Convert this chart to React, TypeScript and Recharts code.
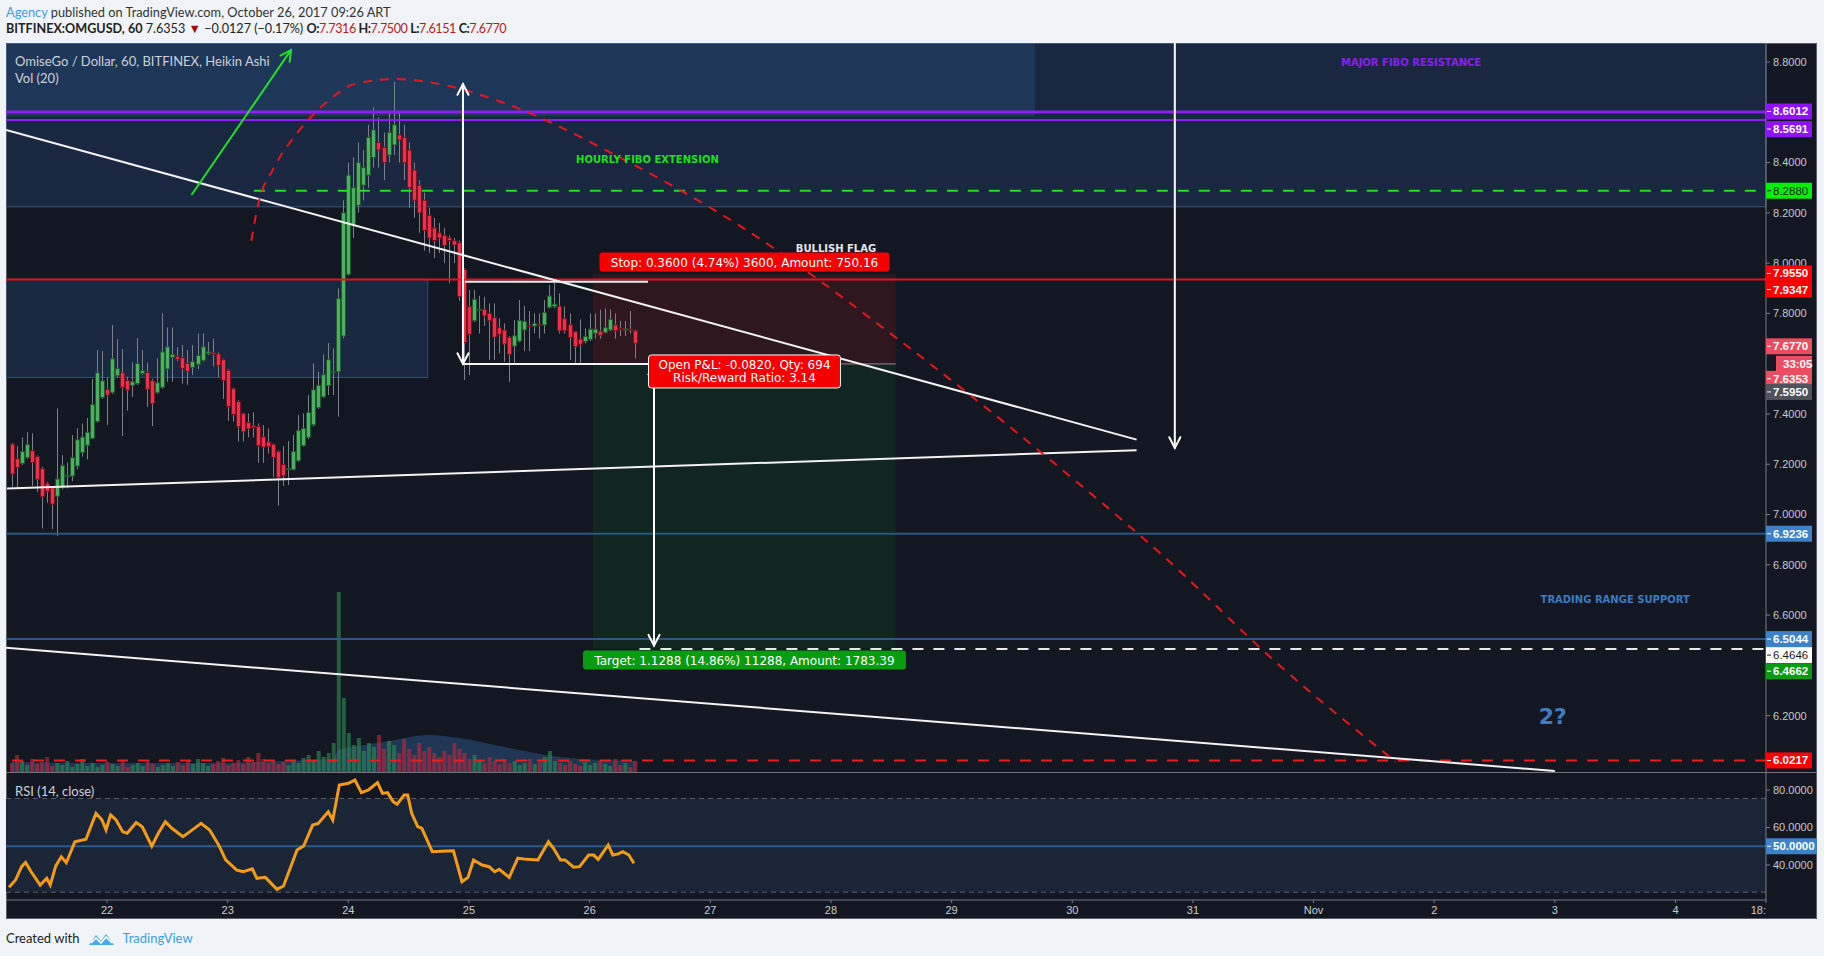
import React from 'react';
import {
  ComposedChart, Bar, Line, Area, XAxis, YAxis, ReferenceLine, ReferenceArea, ReferenceDot, Cell,
} from 'recharts';

// hourly bars, hour 0 = Oct 22 00:00
const FIRST_HOUR = -19;
const candleOpen = [
  7.280, 7.222, 7.203, 7.227, 7.254, 7.230, 7.182, 7.124, 7.107, 7.073,
  7.110, 7.153, 7.153, 7.193, 7.247, 7.275, 7.303, 7.370, 7.466, 7.498,
  7.486, 7.552, 7.564, 7.533, 7.513, 7.521, 7.561, 7.565, 7.532, 7.486,
  7.506, 7.579, 7.625, 7.628, 7.624, 7.601, 7.585, 7.597, 7.613, 7.641,
  7.643, 7.639, 7.616, 7.573, 7.500, 7.449, 7.401, 7.366, 7.353, 7.350,
  7.309, 7.289, 7.279, 7.250, 7.199, 7.180, 7.179, 7.214, 7.274, 7.307,
  7.357, 7.425, 7.468, 7.513, 7.566, 7.568, 7.710, 7.955, 8.150, 8.230,
  8.310, 8.350, 8.420, 8.480, 8.460, 8.430, 8.470, 8.510, 8.500, 8.450,
  8.370, 8.310, 8.250, 8.190, 8.140, 8.120, 8.110, 8.100, 8.089, 8.081,
  7.975, 7.827, 7.771, 7.813, 7.816, 7.800, 7.783, 7.743, 7.734, 7.705,
  7.670, 7.690, 7.734, 7.751, 7.750, 7.755, 7.754, 7.824, 7.827, 7.829,
  7.779, 7.755, 7.727, 7.698, 7.688, 7.697, 7.721, 7.729, 7.725, 7.734,
  7.754, 7.740, 7.736, 7.737, 7.731,
];
const candleHigh = [
  7.285, 7.272, 7.307, 7.327, 7.323, 7.235, 7.190, 7.130, 7.110, 7.422,
  7.236, 7.207, 7.316, 7.343, 7.362, 7.384, 7.539, 7.654, 7.650, 7.545,
  7.754, 7.698, 7.658, 7.548, 7.605, 7.702, 7.654, 7.604, 7.540, 7.621,
  7.800, 7.744, 7.744, 7.665, 7.674, 7.654, 7.674, 7.720, 7.720, 7.686,
  7.700, 7.645, 7.620, 7.578, 7.505, 7.455, 7.405, 7.402, 7.407, 7.362,
  7.356, 7.342, 7.283, 7.255, 7.272, 7.292, 7.316, 7.396, 7.402, 7.475,
  7.601, 7.568, 7.637, 7.683, 7.661, 7.900, 8.250, 8.400, 8.420, 8.480,
  8.450, 8.550, 8.620, 8.580, 8.520, 8.600, 8.720, 8.600, 8.550, 8.480,
  8.400, 8.330, 8.280, 8.220, 8.180, 8.160, 8.140, 8.110, 8.100, 8.090,
  7.980, 7.893, 7.893, 7.870, 7.866, 7.840, 7.840, 7.780, 7.760, 7.710,
  7.774, 7.853, 7.830, 7.810, 7.800, 7.800, 7.853, 7.913, 7.922, 7.880,
  7.827, 7.800, 7.730, 7.776, 7.740, 7.800, 7.800, 7.815, 7.820, 7.816,
  7.800, 7.770, 7.770, 7.810, 7.735,
];
const candleLow = [
  7.110, 7.108, 7.197, 7.220, 7.113, 7.090, 6.945, 7.047, 6.942, 6.915,
  7.100, 7.104, 7.133, 7.180, 7.230, 7.219, 7.300, 7.365, 7.460, 7.356,
  7.480, 7.545, 7.312, 7.413, 7.468, 7.515, 7.555, 7.429, 7.352, 7.480,
  7.500, 7.528, 7.528, 7.610, 7.521, 7.516, 7.555, 7.578, 7.608, 7.635,
  7.590, 7.545, 7.460, 7.373, 7.369, 7.290, 7.290, 7.307, 7.307, 7.206,
  7.206, 7.243, 7.150, 7.035, 7.114, 7.117, 7.175, 7.210, 7.270, 7.300,
  7.350, 7.420, 7.465, 7.475, 7.475, 7.389, 7.700, 7.950, 8.100, 8.200,
  8.250, 8.300, 8.380, 8.380, 8.330, 8.400, 8.430, 8.400, 8.330, 8.220,
  8.180, 8.120, 8.050, 8.040, 8.020, 8.040, 8.000, 7.920, 8.000, 7.850,
  7.535, 7.555, 7.765, 7.720, 7.750, 7.615, 7.615, 7.641, 7.608, 7.528,
  7.601, 7.685, 7.650, 7.650, 7.720, 7.700, 7.720, 7.820, 7.820, 7.720,
  7.720, 7.615, 7.601, 7.601, 7.680, 7.690, 7.700, 7.700, 7.720, 7.730,
  7.700, 7.710, 7.710, 7.720, 7.621,
];
const candleClose = [
  7.161, 7.187, 7.250, 7.278, 7.207, 7.140, 7.071, 7.092, 7.041, 7.141,
  7.194, 7.156, 7.226, 7.297, 7.308, 7.327, 7.437, 7.564, 7.532, 7.475,
  7.620, 7.580, 7.506, 7.495, 7.528, 7.601, 7.572, 7.498, 7.441, 7.524,
  7.647, 7.667, 7.637, 7.617, 7.581, 7.569, 7.608, 7.633, 7.667, 7.647,
  7.637, 7.593, 7.533, 7.430, 7.398, 7.349, 7.329, 7.341, 7.346, 7.274,
  7.268, 7.270, 7.227, 7.148, 7.154, 7.182, 7.250, 7.334, 7.342, 7.406,
  7.496, 7.514, 7.556, 7.616, 7.568, 7.860, 8.200, 8.350, 8.300, 8.400,
  8.380, 8.500, 8.530, 8.450, 8.400, 8.520, 8.550, 8.490, 8.400, 8.300,
  8.250, 8.200, 8.130, 8.100, 8.090, 8.100, 8.070, 8.090, 8.072, 7.867,
  7.684, 7.717, 7.856, 7.816, 7.790, 7.771, 7.705, 7.717, 7.678, 7.637,
  7.711, 7.771, 7.768, 7.748, 7.760, 7.752, 7.803, 7.869, 7.837, 7.731,
  7.731, 7.704, 7.668, 7.677, 7.708, 7.737, 7.737, 7.713, 7.743, 7.776,
  7.731, 7.736, 7.738, 7.733, 7.681,
];
const volume = [
  10, 18, 12, 8, 14, 9, 11, 16, 7, 10,
  8, 12, 6, 9, 14, 7, 10, 6, 8, 11,
  9, 7, 12, 6, 8, 10, 7, 13, 9, 6, 8, 10,
  7, 11, 8, 12, 9, 14, 10, 7, 9, 12, 15, 8,
  10, 13, 9, 16, 11, 20, 14, 10, 12, 9, 11, 8,
  12, 10, 15, 18, 12, 22, 16, 20, 30,
  181, 75,
  40, 28, 35, 22, 30, 26, 38, 24, 32,
  28, 20, 34, 24, 18, 30, 22, 26, 20, 16, 22, 18,
  30, 24, 20, 14, 18, 12, 10, 16, 12, 9, 14, 10,
  12, 8, 10, 14, 9, 11, 16, 22, 12, 10, 8, 12,
  9, 7, 11, 8, 10, 12, 9, 7, 14, 8, 10, 6, 12,
];
const volMaHours = [-19, 0, 20, 40, 45, 46, 50, 56, 64, 70, 80, 90, 105];
const volMaValues = [11, 10, 10, 13, 14, 23, 27, 32, 38, 35, 25, 16, 12];

const rsiHours = [
  -19.5, -18.2, -17, -16.2, -15.1, -13.3, -12, -11.3, -10.2, -9.1, -8.1, -6.4, -4.2, -2.2, -1, -0.2,
  0.7, 1.8, 3.1, 4, 5.8, 7, 8.9, 10.2, 11.6, 12.9, 15.1, 16.5, 18.7, 20.4, 22.2, 23.6, 25.8, 27.1,
  28.9, 29.8, 31.5, 33.8, 35.1, 37.8, 39.1, 40.9, 42, 44, 44.9, 46.2, 48, 49.3, 50.6, 52, 53.8,
  54.8, 55.8, 56.9, 57.7, 59.1, 59.8, 60.6, 61.8, 62.6, 64.7, 67.5, 68.9, 70.6, 71.8, 72.9, 74.6,
  76, 77.1, 78, 80, 81.7, 83.5, 85.7, 87.8, 88.8, 90.2, 91.1, 92.8, 94, 95.8, 96.8, 97.7, 99.7,
  100.6, 101.7, 102.6, 103.8, 104.8,
];
const rsiValues = [
  28.1, 32.0, 39.1, 41.4, 36.4, 29.3, 32.9, 29.3, 39.5, 44.4, 41.2, 52.4, 53.7, 67.6, 64.0, 58.7,
  66.7, 64.0, 57.8, 56.9, 62.6, 60.4, 50.1, 56.9, 63.1, 59.6, 55.1, 57.8, 62.2, 58.7, 50.7, 42.7,
  37.3, 36.4, 37.9, 32.9, 33.4, 27.0, 28.8, 48.0, 50.1, 61.3, 62.2, 68.4, 64.0, 82.7, 83.6, 85.3,
  78.6, 80.0, 83.9, 78.2, 78.6, 73.8, 72.4, 77.3, 77.3, 67.6, 60.5, 59.6, 47.1, 47.5, 47.6, 31.1,
  33.4, 42.7, 40.0, 39.1, 36.4, 37.7, 33.4, 43.6, 43.0, 42.7, 52.4, 48.9, 42.7, 42.7, 38.8, 39.1,
  45.3, 45.3, 43.0, 50.7, 45.3, 45.9, 47.1, 45.3, 40.9,
];

// red dashed arc drawing
const arcHours = [28.7, 30.1, 33.1, 37.7, 44.2, 49.3, 57.4, 66.0, 78.8, 102.7, 125.9, 157.1, 185, 210.1, 233.2, 256.4];
const arcPrices = [8.089, 8.237, 8.376, 8.514, 8.649, 8.713, 8.732, 8.713, 8.638, 8.413, 8.148, 7.701, 7.26, 6.835, 6.40, 6.016];

const dayTicks = [0, 24, 48, 72, 96, 120, 144, 168, 192, 216, 240, 264, 288, 312, 330];
const dayLabels = ['22', '23', '24', '25', '26', '27', '28', '29', '30', '31', 'Nov', '2', '3', '4', '18:'];
const priceTicks = [8.8, 8.4, 8.2, 8.0, 7.8, 7.4, 7.2, 7.0, 6.8, 6.6, 6.2];
const rsiTicks = [80, 60, 40];

const X_DOMAIN: [number, number] = [-20.1, 330];
const P_DOMAIN: [number, number] = [5.9718, 8.8756];
const RSI_DOMAIN: [number, number] = [21.33, 89.07];

// levels and drawings
const majorFibo = [8.6012, 8.5691];
const fiboExt = 8.288;
const stopPrice = 7.955;
const stopLine = 7.9347;
const entryPrice = 7.595;
const lastClose = 7.677;
const lastPrice = 7.6353;
const rangeSupport = [6.9236, 6.5044];
const targetPrice = 6.4662;
const targetDash = 6.4646;
const lowerRed = 6.0217;
const posFrom = 96.7;
const posTo = 156.9;

const candles = candleOpen.map((o, i) => ({
  h: FIRST_HOUR + i,
  o,
  c: candleClose[i],
  hi: candleHigh[i],
  lo: candleLow[i],
  range: [candleLow[i], candleHigh[i]],
  v: volume[i],
}));
const rsiData = rsiHours.map((h, i) => ({ h, rsi: rsiValues[i] }));
const volMa = volMaHours.map((h, i) => ({ h, ma: volMaValues[i] }));
const arcData = arcHours.map((h, i) => ({ h, arc: arcPrices[i] }));

const AXIS_FONT = 'Liberation Sans, Arial, sans-serif';
const LABEL_FONT = 'DejaVu Sans, Verdana, sans-serif';
const UI_FONT = 'Lato, "Open Sans", sans-serif';

const Candle = (props: any) => {
  const { x, y, width, height, payload } = props;
  if (!payload) return null;
  const { o, c, hi, lo } = payload;
  const k = height / (hi - lo || 1e-6);
  const py = (p: number) => y + (hi - p) * k;
  const cx = Math.round(x + width / 2) + 0.5;
  const up = c >= o;
  const top = py(Math.max(o, c));
  const bot = py(Math.min(o, c));
  return (
    <g>
      <line x1={cx} x2={cx} y1={y} y2={y + height} stroke="#7d8088" strokeWidth={1} />
      <rect
        x={cx - 2}
        y={top}
        width={4}
        height={Math.max(bot - top, 1)}
        fill={up ? '#4caf61' : '#e8334b'}
        stroke={up ? '#1f5a2a' : '#7a1020'}
        strokeWidth={1}
      />
    </g>
  );
};

const arrow = (color: string, w: number, both: boolean) => (p: any) => {
  const { x1, y1, x2, y2 } = p;
  const a = Math.atan2(y2 - y1, x2 - x1);
  const L = 12;
  const s = 0.48;
  const head = (x: number, y: number, ang: number) =>
    `M${x - L * Math.cos(ang - s)},${y - L * Math.sin(ang - s)} L${x},${y} L${x - L * Math.cos(ang + s)},${y - L * Math.sin(ang + s)}`;
  return (
    <g fill="none" stroke={color} strokeWidth={w} strokeLinecap="round">
      <line x1={x1} y1={y1} x2={x2} y2={y2} />
      <path d={head(x2, y2, a)} />
      {both && <path d={head(x1, y1, a + Math.PI)} />}
    </g>
  );
};

const badge = (text: string, bg: string, fg: string, dy: number, dx = 0, w = 46, bold = true) => (p: any) => {
  const x = p.cx + dx;
  const y = p.cy + dy;
  return (
    <g>
      <rect x={x} y={y - 8} width={w} height={16} fill={bg} />
      {dx === 0 && <line x1={x + 1} x2={x + 5} y1={y} y2={y} stroke={fg} strokeWidth={1} />}
      <text x={x + 7} y={y + 4} fill={fg} fontSize={11.5} fontWeight={bold ? 'bold' : 'normal'} fontFamily={AXIS_FONT}>
        {text}
      </text>
    </g>
  );
};

const caption = (text: string, color: string, size: number) => (p: any) => (
  <text x={p.cx} y={p.cy} dy="0.35em" textAnchor="middle" fill={color} fontSize={size} fontWeight="bold" fontFamily={LABEL_FONT}>
    {text}
  </text>
);

const tag = (lines: string[], bg: string, w: number, border?: string) => (p: any) => {
  const h = lines.length * 14 + 5;
  return (
    <g>
      <rect x={p.cx - w / 2} y={p.cy - h / 2} width={w} height={h} rx={3} fill={bg} stroke={border || 'none'} strokeWidth={1} />
      {lines.map((t, i) => (
        <text
          key={t}
          x={p.cx}
          y={p.cy - h / 2 + 14 + i * 13}
          textAnchor="middle"
          fill="#ffffff"
          fontSize={12}
          fontFamily={LABEL_FONT}
        >
          {t}
        </text>
      ))}
    </g>
  );
};

const DayTick = (p: any) => {
  const { x, y, payload } = p;
  const i = dayTicks.indexOf(payload.value);
  const last = i === dayTicks.length - 1;
  return (
    <text x={x} y={y + 9} textAnchor={last ? 'end' : 'middle'} fill="#c9ccd3" fontSize={11} fontFamily={AXIS_FONT}>
      {dayLabels[i]}
    </text>
  );
};

const hiddenAxes = (
  <>
    <XAxis hide dataKey="h" type="number" domain={X_DOMAIN} allowDataOverflow />
    <YAxis hide domain={P_DOMAIN} allowDataOverflow />
  </>
);

const layer = (top: number): React.CSSProperties => ({ position: 'absolute', left: 6, top });
const red = { color: '#b71c1c' };

const App: React.FC = () => {
  return (
    <div style={{ position: 'absolute', left: 0, top: 0, width: 1824, height: 956, background: '#f0f3f7', overflow: 'hidden' }}>
      {/* header */}
      <div style={{ position: 'absolute', left: 6, top: 3, font: `12.8px ${UI_FONT}`, lineHeight: '18px', color: '#333', whiteSpace: 'nowrap' }}>
        <span style={{ color: '#3d9ee6' }}>Agency</span> published on TradingView.com, October 26, 2017 09:26 ART
      </div>
      <div style={{ position: 'absolute', left: 6, top: 20, font: `12.6px ${UI_FONT}`, lineHeight: '18px', color: '#222', whiteSpace: 'nowrap' }}>
        <b>BITFINEX:OMGUSD, 60</b> 7.6353 <span style={{ color: '#9b1111' }}>▼</span> −0.0127 (−0.17%){' '}
        <span style={{ letterSpacing: '-0.45px' }}>
          <b>O:</b><span style={red}>7.7316</span> <b>H:</b><span style={red}>7.7500</span>{' '}
          <b>L:</b><span style={red}>7.6151</span> <b>C:</b><span style={red}>7.6770</span>
        </span>
      </div>

      {/* chart panel */}
      <div style={{ position: 'absolute', left: 6, top: 43, width: 1811, height: 876, background: '#131722', boxSizing: 'border-box', border: '1px solid #5d606b' }} />

      {/* boxes and position zones */}
      <div style={layer(43)}>
        <ComposedChart width={1811} height={730} data={candles} margin={{ top: 0, right: 51, bottom: 0, left: 0 }}>
          {hiddenAxes}
          <ReferenceArea x1={X_DOMAIN[0]} x2={X_DOMAIN[1]} y1={8.224} y2={P_DOMAIN[1]} fill="#3269af" fillOpacity={0.22} stroke="#35557a" strokeWidth={1} ifOverflow="visible" />
          <ReferenceArea x1={X_DOMAIN[0]} x2={184.6} y1={8.584} y2={P_DOMAIN[1]} fill="#3269af" fillOpacity={0.22} stroke="none" ifOverflow="visible" />
          <ReferenceArea x1={X_DOMAIN[0]} x2={63.8} y1={7.545} y2={7.935} fill="#3269af" fillOpacity={0.22} stroke="#2e4d72" strokeWidth={1} ifOverflow="visible" />
          <ReferenceArea x1={posFrom} x2={posTo} y1={entryPrice} y2={stopPrice} fill="#ff1a1a" fillOpacity={0.12} stroke="none" ifOverflow="visible" />
          <ReferenceArea x1={posFrom} x2={posTo} y1={targetPrice} y2={entryPrice} fill="#0a8a1e" fillOpacity={0.12} stroke="none" ifOverflow="visible" />
        </ComposedChart>
      </div>

      {/* volume */}
      <div style={layer(43)}>
        <ComposedChart width={1811} height={730} data={candles} margin={{ top: 0, right: 51, bottom: 0, left: 0 }}>
          <XAxis hide dataKey="h" type="number" domain={X_DOMAIN} allowDataOverflow />
          <YAxis hide domain={[0, 730]} allowDataOverflow />
          <Bar dataKey="v" barSize={4} isAnimationActive={false}>
            {candles.map((c) => (
              <Cell key={c.h} fill={c.c >= c.o ? '#2f8f55' : '#c2283e'} fillOpacity={0.6} />
            ))}
          </Bar>
          <Area data={volMa} dataKey="ma" type="monotone" fill="#3a78c0" fillOpacity={0.32} stroke="none" isAnimationActive={false} />
        </ComposedChart>
      </div>

      {/* price pane */}
      <div style={layer(43)}>
        <ComposedChart width={1811} height={730} data={candles} margin={{ top: 0, right: 0, bottom: 0, left: 0 }}>
          <XAxis hide dataKey="h" type="number" domain={X_DOMAIN} allowDataOverflow />
          <YAxis
            orientation="right"
            width={51}
            domain={P_DOMAIN}
            ticks={priceTicks}
            allowDataOverflow
            tickFormatter={(v: number) => v.toFixed(4)}
            stroke="#787b86"
            tickSize={4}
            tickMargin={3}
            tick={{ fill: '#c5c8cf', fontSize: 11, fontFamily: AXIS_FONT, textAnchor: 'start' }}
          />
          {/* horizontal levels */}
          <ReferenceLine y={majorFibo[0]} stroke="#8b1ff0" strokeWidth={3} />
          <ReferenceLine y={majorFibo[1]} stroke="#8b1ff0" strokeWidth={2} />
          <ReferenceLine segment={[{ x: 29.2, y: fiboExt }, { x: X_DOMAIN[1], y: fiboExt }]} stroke="#1ee01e" strokeWidth={2} strokeDasharray="11 10" ifOverflow="visible" />
          <ReferenceLine y={stopLine} stroke="#e01414" strokeWidth={2} />
          <ReferenceLine y={rangeSupport[0]} stroke="#2b5784" strokeWidth={2} />
          <ReferenceLine y={rangeSupport[1]} stroke="#2b5784" strokeWidth={2} />
          <ReferenceLine segment={[{ x: 105.9, y: targetDash }, { x: X_DOMAIN[1], y: targetDash }]} stroke="#e8e8e8" strokeWidth={2} strokeDasharray="11 10" ifOverflow="visible" />
          <ReferenceLine y={lowerRed} stroke="#ee1c1c" strokeWidth={2} strokeDasharray="11 10" />
          <ReferenceLine segment={[{ x: 108, y: 7.599 }, { x: posTo, y: 7.599 }]} stroke="#8a8c92" strokeWidth={1} ifOverflow="visible" />

          {/* trend lines */}
          <ReferenceLine segment={[{ x: -20.1, y: 8.53 }, { x: 204.8, y: 7.298 }]} stroke="#f2f2f2" strokeWidth={2} ifOverflow="visible" />
          <ReferenceLine segment={[{ x: -19.9, y: 7.103 }, { x: 204.8, y: 7.256 }]} stroke="#f2f2f2" strokeWidth={2} ifOverflow="visible" />
          <ReferenceLine segment={[{ x: -20.1, y: 6.47 }, { x: 288, y: 5.98 }]} stroke="#f2f2f2" strokeWidth={2} ifOverflow="visible" />
          <ReferenceLine segment={[{ x: 71.2, y: 7.926 }, { x: 107.6, y: 7.926 }]} stroke="#f2f2f2" strokeWidth={2} ifOverflow="visible" />
          <ReferenceLine segment={[{ x: 70.8, y: 7.599 }, { x: 108, y: 7.599 }]} stroke="#f2f2f2" strokeWidth={2} ifOverflow="visible" />

          <Bar dataKey="range" barSize={4} shape={<Candle />} isAnimationActive={false} />

          <Line data={arcData} dataKey="arc" type="monotone" stroke="#e8161c" strokeWidth={2} strokeDasharray="9 8" dot={false} isAnimationActive={false} />

          {/* arrows */}
          <ReferenceLine segment={[{ x: 70.8, y: 8.712 }, { x: 70.8, y: 7.599 }]} shape={arrow('#ffffff', 2, true)} ifOverflow="visible" />
          <ReferenceLine segment={[{ x: 108.8, y: 7.599 }, { x: 108.8, y: 6.479 }]} shape={arrow('#ffffff', 2, true)} ifOverflow="visible" />
          <ReferenceLine segment={[{ x: 212.4, y: 8.875 }, { x: 212.4, y: 7.265 }]} shape={arrow('#ffffff', 2, false)} ifOverflow="visible" />
          <ReferenceLine segment={[{ x: 16.9, y: 8.274 }, { x: 36.6, y: 8.848 }]} shape={arrow('#22e022', 2, false)} ifOverflow="visible" />
        </ComposedChart>
      </div>

      {/* annotations and price badges */}
      <div style={layer(43)}>
        <ComposedChart width={1811} height={730} data={candles} margin={{ top: 0, right: 51, bottom: 0, left: 0 }}>
          {hiddenAxes}
          <ReferenceDot x={107.5} y={8.413} r={1} shape={caption('HOURLY FIBO EXTENSION', '#1ee01e', 10)} ifOverflow="visible" />
          <ReferenceDot x={145} y={8.06} r={1} shape={caption('BULLISH FLAG', '#e6e6e6', 10)} ifOverflow="visible" />
          <ReferenceDot x={259.4} y={8.799} r={1} shape={caption('MAJOR FIBO RESISTANCE', '#8d1cf0', 10)} ifOverflow="visible" />
          <ReferenceDot x={300} y={6.663} r={1} shape={caption('TRADING RANGE SUPPORT', '#3b7cc2', 10)} ifOverflow="visible" />
          <ReferenceDot x={287.6} y={6.196} r={1} shape={caption('2?', '#3b7cc2', 22)} ifOverflow="visible" />

          <ReferenceDot x={(posFrom + posTo) / 2} y={8.004} r={1} shape={tag(['Stop: 0.3600 (4.74%) 3600, Amount: 750.16'], '#f50000', 290)} ifOverflow="visible" />
          <ReferenceDot x={(posFrom + posTo) / 2} y={7.569} r={1} shape={tag(['Open P&L: -0.0820, Qty: 694', 'Risk/Reward Ratio: 3.14'], '#f50000', 192, '#ffffff')} ifOverflow="visible" />
          <ReferenceDot x={(posFrom + posTo) / 2} y={6.421} r={1} shape={tag(['Target: 1.1288 (14.86%) 11288, Amount: 1783.39'], '#0a9c10', 323)} ifOverflow="visible" />

          <ReferenceDot x={X_DOMAIN[1]} y={majorFibo[0]} r={1} shape={badge(majorFibo[0].toFixed(4), '#9012f5', '#ffffff', -0.5)} ifOverflow="visible" />
          <ReferenceDot x={X_DOMAIN[1]} y={majorFibo[1]} r={1} shape={badge(majorFibo[1].toFixed(4), '#9012f5', '#ffffff', 9)} ifOverflow="visible" />
          <ReferenceDot x={X_DOMAIN[1]} y={fiboExt} r={1} shape={badge(fiboExt.toFixed(4), '#00f000', '#1b1b1b', 0, 0, 46, false)} ifOverflow="visible" />
          <ReferenceDot x={X_DOMAIN[1]} y={stopPrice} r={1} shape={badge(stopPrice.toFixed(4), '#ff0000', '#ffffff', -1)} ifOverflow="visible" />
          <ReferenceDot x={X_DOMAIN[1]} y={stopLine} r={1} shape={badge(stopLine.toFixed(4), '#ff0000', '#ffffff', 10)} ifOverflow="visible" />
          <ReferenceDot x={X_DOMAIN[1]} y={lastClose} r={1} shape={badge(lastClose.toFixed(4), '#ec4c5f', '#ffffff', 2)} ifOverflow="visible" />
          <ReferenceDot x={X_DOMAIN[1]} y={lastPrice} r={1} shape={badge('33:05', '#ec4c5f', '#ffffff', 9, 10, 36)} ifOverflow="visible" />
          <ReferenceDot x={X_DOMAIN[1]} y={lastPrice} r={1} shape={badge(lastPrice.toFixed(4), '#ec4c5f', '#ffffff', 24)} ifOverflow="visible" />
          <ReferenceDot x={X_DOMAIN[1]} y={entryPrice} r={1} shape={badge(entryPrice.toFixed(4), '#50535b', '#ffffff', 27)} ifOverflow="visible" />
          <ReferenceDot x={X_DOMAIN[1]} y={rangeSupport[0]} r={1} shape={badge(rangeSupport[0].toFixed(4), '#3d82c8', '#ffffff', 0)} ifOverflow="visible" />
          <ReferenceDot x={X_DOMAIN[1]} y={rangeSupport[1]} r={1} shape={badge(rangeSupport[1].toFixed(4), '#3d82c8', '#ffffff', 0)} ifOverflow="visible" />
          <ReferenceDot x={X_DOMAIN[1]} y={targetDash} r={1} shape={badge(targetDash.toFixed(4), '#ffffff', '#1b1b1b', 6, 0, 46, false)} ifOverflow="visible" />
          <ReferenceDot x={X_DOMAIN[1]} y={targetPrice} r={1} shape={badge(targetPrice.toFixed(4), '#0a9c10', '#ffffff', 22.5)} ifOverflow="visible" />
          <ReferenceDot x={X_DOMAIN[1]} y={lowerRed} r={1} shape={badge(lowerRed.toFixed(4), '#ff0000', '#ffffff', 0)} ifOverflow="visible" />
        </ComposedChart>
      </div>

      {/* RSI pane + time axis */}
      <div style={layer(773)}>
        <ComposedChart width={1811} height={146} data={rsiData} margin={{ top: 0, right: 0, bottom: 0, left: 0 }}>
          <XAxis
            dataKey="h"
            type="number"
            domain={X_DOMAIN}
            ticks={dayTicks}
            interval={0}
            allowDataOverflow
            height={19}
            stroke="#787b86"
            tickSize={3}
            tick={<DayTick />}
          />
          <YAxis
            orientation="right"
            width={51}
            domain={RSI_DOMAIN}
            ticks={rsiTicks}
            allowDataOverflow
            tickFormatter={(v: number) => v.toFixed(4)}
            stroke="#787b86"
            tickSize={4}
            tickMargin={3}
            tick={{ fill: '#c5c8cf', fontSize: 11, fontFamily: AXIS_FONT, textAnchor: 'start' }}
          />
          <ReferenceArea y1={25.5} y2={75.5} fill="#1b2538" fillOpacity={1} stroke="none" ifOverflow="visible" />
          <ReferenceLine y={75.5} stroke="#5c5f68" strokeDasharray="5 4" />
          <ReferenceLine y={25.5} stroke="#5c5f68" strokeDasharray="5 4" />
          <ReferenceLine y={50} stroke="#2d5a8a" strokeWidth={2} />
          <Line dataKey="rsi" type="linear" stroke="#f59b16" strokeWidth={3} dot={false} isAnimationActive={false} />
          <ReferenceDot x={X_DOMAIN[1]} y={50} r={1} shape={badge('50.0000', '#3d82c8', '#ffffff', 0, 0, 51)} ifOverflow="visible" />
        </ComposedChart>
      </div>

      {/* pane separator */}
      <div style={{ position: 'absolute', left: 6, top: 772, width: 1811, height: 1, background: '#6f727c' }} />

      {/* legends */}
      <div style={{ position: 'absolute', left: 15, top: 52, font: `13px ${UI_FONT}`, lineHeight: '18px', color: '#cdd1d9', whiteSpace: 'nowrap' }}>
        OmiseGo / Dollar, 60, BITFINEX, Heikin Ashi
      </div>
      <div style={{ position: 'absolute', left: 15, top: 69, font: `13px ${UI_FONT}`, lineHeight: '18px', color: '#cdd1d9', whiteSpace: 'nowrap' }}>
        Vol (20)
      </div>
      <div style={{ position: 'absolute', left: 15, top: 782, font: `13px ${UI_FONT}`, lineHeight: '18px', color: '#cdd1d9', whiteSpace: 'nowrap' }}>
        RSI (14, close)
      </div>

      {/* footer */}
      <div style={{ position: 'absolute', left: 6, top: 929, font: `13px ${UI_FONT}`, lineHeight: '19px', color: '#222', whiteSpace: 'nowrap', display: 'flex', alignItems: 'center' }}>
        <span>Created with</span>
        <svg width={30} height={16} style={{ margin: '0 5px 0 8px' }}>
          <path d="M2 14 L9 4 L14 10 L19 3 L27 14 Z" fill="#4aa9e6" />
          <path d="M4 12 L9 7 L14 12 L19 6 L25 12" fill="none" stroke="#ffffff" strokeWidth={1.6} />
        </svg>
        <span style={{ color: '#3d9ee6' }}>TradingView</span>
      </div>
    </div>
  );
};

export default App;
